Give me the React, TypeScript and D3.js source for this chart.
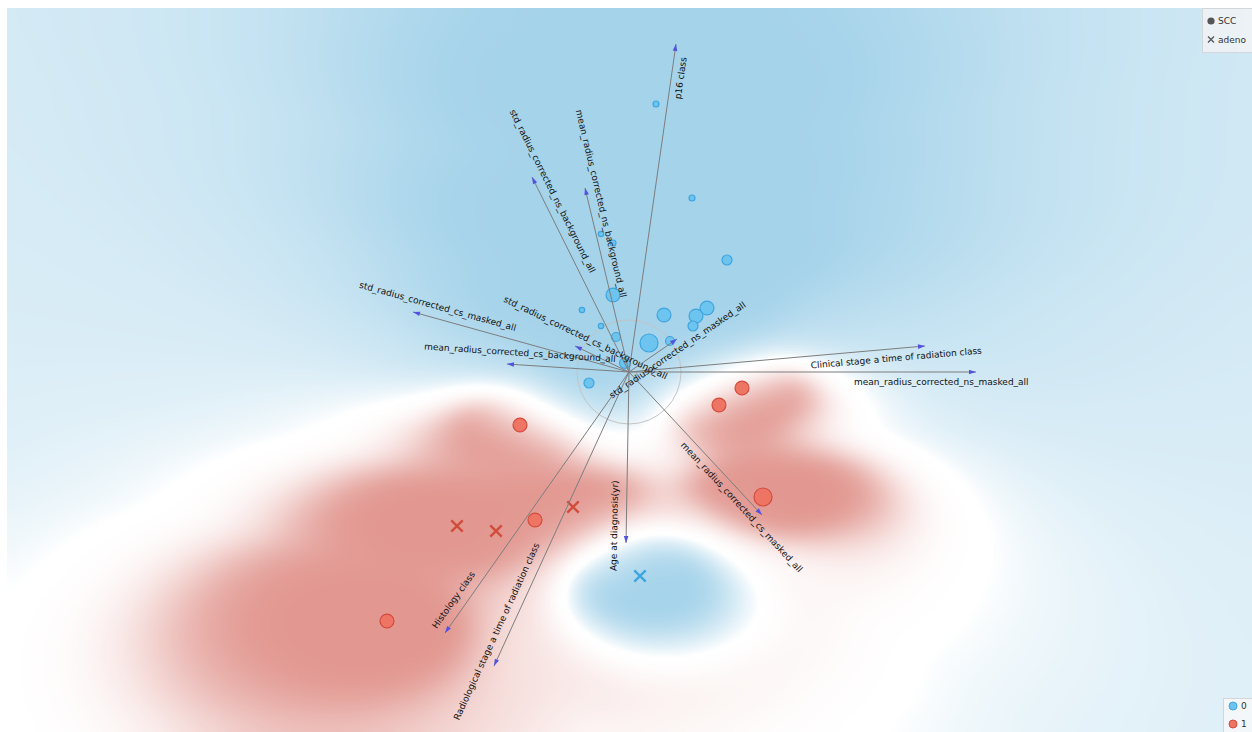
import React, { useEffect, useState } from "react";
import * as d3 from "d3";

// Projected instances (projection plane coordinates)
const pointX = [
  0.27, 0.63, 0.98, -0.16, -0.28, -0.16, -0.47, -0.28, -0.13, 0.35, 0.78, 0.67, 0.64, 0.2, 0.41, -0.04, -0.4, 0.11,
  -1.09, 0.9, 1.13, 1.34, -0.94, -2.42, -1.72, -1.33, -0.56,
];
const pointY = [
  2.68, 1.74, 1.12, 0.77, 1.38, 1.29, 0.62, 0.46, 0.35, 0.57, 0.64, 0.56, 0.46, 0.29, 0.31, 0.09, -0.11, -2.04,
  -0.53, -0.33, -0.16, -1.25, -1.48, -2.49, -1.54, -1.59, -1.35,
];
const pointClass = [
  "0", "0", "0", "0", "0", "0", "0", "0", "0", "0", "0", "0", "0", "0", "0", "0", "0", "0",
  "1", "1", "1", "1", "1", "1", "1", "1", "1",
];
const pointHistology = [
  "SCC", "SCC", "SCC", "SCC", "SCC", "SCC", "SCC", "SCC", "SCC", "SCC", "SCC", "SCC", "SCC", "SCC", "SCC", "SCC", "SCC", "adeno",
  "SCC", "SCC", "SCC", "SCC", "SCC", "SCC", "adeno", "adeno", "adeno",
];
const pointSize = [
  1.1, 1.1, 3.1, 6, 0.9, 1.1, 0.9, 0.9, 2.5, 6, 6, 6, 3.1, 10, 2.5, 3.7, 3.1, 6,
  6, 6, 6, 10, 6, 6, 6, 6, 6,
];

// Feature anchors (projection vectors)
const anchorNames = [
  "p16 class",
  "std_radius_corrected_ns_background_all",
  "mean_radius_corrected_ns_background_all",
  "std_radius_corrected_cs_masked_all",
  "std_radius_corrected_cs_background_all",
  "mean_radius_corrected_cs_background_all",
  "std_radius_corrected_ns_masked_all",
  "Clinical stage a time of radiation class",
  "mean_radius_corrected_ns_masked_all",
  "mean_radius_corrected_cs_masked_all",
  "Age at diagnosis(yr)",
  "Radiological stage a time of radiation class",
  "Histology class",
];
const anchorX = [0.47, -0.97, -0.44, -2.16, -0.54, -1.22, 0.48, 2.96, 3.47, 1.33, -0.03, -1.35, -1.84];
const anchorY = [3.28, 1.95, 1.84, 0.6, 0.26, 0.08, 0.33, 0.26, 0.0, -1.43, -1.71, -2.94, -2.61];

const classLabels = ["0", "1"];
const histologyLabels = ["SCC", "adeno"];
const hideRadius = 0.52;

const W = 1252;
const H = 732;
const plot = { left: 7, top: 8, right: 1252, bottom: 732 };
const FONT = "DejaVu Sans, Verdana, sans-serif";

const xScale = d3.scaleLinear().domain([-6.22, 6.23]).range([plot.left, plot.right]);
const yScale = d3.scaleLinear().domain([3.64, -3.6]).range([plot.top, plot.bottom]);
const rScale = d3.scaleSqrt().domain([0, 10]).range([0, 9]);
const fillScale = d3.scaleOrdinal<string, string>().domain(classLabels).range(["#6dc4ef", "#ee7464"]);
const strokeScale = d3.scaleOrdinal<string, string>().domain(classLabels).range(["#3fa5de", "#d24c3c"]);
const tintScale = d3
  .scaleOrdinal<string, number[]>()
  .domain(classLabels)
  .range([
    [165, 211, 234],
    [226, 152, 145],
  ]);
// response curve of the tint strength per class
const gammaScale = d3.scaleOrdinal<string, number>().domain(classLabels).range([0.8, 2.3]);

// separable box blur with clamped edges, applied in place
function boxBlur(src: Float64Array, cols: number, rows: number, rad: number) {
  const tmp = new Float64Array(src.length);
  const n = 2 * rad + 1;
  for (let j = 0; j < rows; j++) {
    for (let i = 0; i < cols; i++) {
      let s = 0;
      for (let k = -rad; k <= rad; k++) s += src[j * cols + Math.min(cols - 1, Math.max(0, i + k))];
      tmp[j * cols + i] = s / n;
    }
  }
  for (let j = 0; j < rows; j++) {
    for (let i = 0; i < cols; i++) {
      let s = 0;
      for (let k = -rad; k <= rad; k++) s += tmp[Math.min(rows - 1, Math.max(0, j + k)) * cols + i];
      src[j * cols + i] = s / n;
    }
  }
}

// Class probability map computed in view-normalised coordinates (each axis
// scaled to [0, 1]); the Gaussian bandwidth grows with the distance to the
// closest instance so that far regions blend toward the overall class mix.
function useDensityImage(step: number) {
  const [url, setUrl] = useState("");
  useEffect(() => {
    const pw = plot.right - plot.left;
    const ph = plot.bottom - plot.top;
    const cols = Math.ceil(pw / step);
    const rows = Math.ceil(ph / step);
    const nx = pointX.map((v) => (xScale(v) - plot.left) / pw);
    const ny = pointY.map((v) => (yScale(v) - plot.top) / ph);
    const isBlue = pointClass.map((c) => c === classLabels[0]);
    const d2 = new Float64Array(nx.length);
    const signed = new Float64Array(cols * rows);
    for (let j = 0; j < rows; j++) {
      const gy = ((j + 0.5) * step) / ph;
      for (let i = 0; i < cols; i++) {
        const gx = ((i + 0.5) * step) / pw;
        let dmin = Infinity;
        for (let k = 0; k < nx.length; k++) {
          const dx = gx - nx[k];
          const dy = gy - ny[k];
          d2[k] = dx * dx + dy * dy;
          if (d2[k] < dmin) dmin = d2[k];
        }
        const d1 = Math.sqrt(dmin);
        const sigma = Math.max(0.04, d1 * (0.75 + d1 / 0.65));
        const s2 = 2 * sigma * sigma;
        let wb = 0;
        let wr = 0;
        for (let k = 0; k < nx.length; k++) {
          const w = Math.exp(-(d2[k] - dmin) / s2);
          if (isBlue[k]) wb += w;
          else wr += w;
        }
        signed[j * cols + i] = (2 * wb) / (wb + wr) - 1;
      }
    }
    boxBlur(signed, cols, rows, 4);
    boxBlur(signed, cols, rows, 4);

    const canvas = document.createElement("canvas");
    canvas.width = cols;
    canvas.height = rows;
    const ctx = canvas.getContext("2d");
    if (!ctx) return;
    const img = ctx.createImageData(cols, rows);
    for (let q = 0; q < signed.length; q++) {
      const s = signed[q];
      const cls = s >= 0 ? classLabels[0] : classLabels[1];
      const tint = tintScale(cls);
      const t = Math.pow(Math.abs(s), gammaScale(cls));
      const o = q * 4;
      img.data[o] = 255 + t * (tint[0] - 255);
      img.data[o + 1] = 255 + t * (tint[1] - 255);
      img.data[o + 2] = 255 + t * (tint[2] - 255);
      img.data[o + 3] = 255;
    }
    ctx.putImageData(img, 0, 0);
    setUrl(canvas.toDataURL());
  }, [step]);
  return url;
}

function Marker({ cx, cy, r, cls, shape }: { cx: number; cy: number; r: number; cls: string; shape: string }) {
  if (shape === histologyLabels[1]) {
    const s = r * 0.82;
    return (
      <path
        d={`M${cx - s},${cy - s}L${cx + s},${cy + s}M${cx - s},${cy + s}L${cx + s},${cy - s}`}
        stroke={strokeScale(cls)}
        strokeWidth={2.4}
        fill="none"
      />
    );
  }
  return <circle cx={cx} cy={cy} r={r} fill={fillScale(cls)} stroke={strokeScale(cls)} strokeWidth={1.2} />;
}

export default function App() {
  const step = 3;
  const densityUrl = useDensityImage(step);
  const ox = xScale(0);
  const oy = yScale(0);

  const anchors = anchorNames.map((name, i) => {
    const tx = xScale(anchorX[i]);
    const ty = yScale(anchorY[i]);
    const dx = tx - ox;
    const dy = ty - oy;
    const len = Math.hypot(dx, dy);
    const ux = dx / len;
    const uy = dy / len;
    const ang = (Math.atan2(dy, dx) * 180) / Math.PI;
    const rightward = dx >= 0;
    const lx = ox + 0.9 * dx;
    const ly = oy + 0.9 * dy;
    return { name, tx, ty, ux, uy, ang, rightward, lx, ly };
  });

  const order = d3.range(pointX.length);

  return (
    <div style={{ position: "absolute", left: 0, top: 0, width: W, height: H }}>
      <svg width={W} height={H} style={{ display: "block" }}>
        <defs>
          <clipPath id="plot-area">
            <rect x={plot.left} y={plot.top} width={plot.right - plot.left} height={plot.bottom - plot.top} />
          </clipPath>
        </defs>
        <rect x={0} y={0} width={W} height={H} fill="#ffffff" />
        <g clipPath="url(#plot-area)">
          {densityUrl && (
            <image
              href={densityUrl}
              x={plot.left}
              y={plot.top}
              width={Math.ceil((plot.right - plot.left) / step) * step}
              height={Math.ceil((plot.bottom - plot.top) / step) * step}
              preserveAspectRatio="none"
            />
          )}

          <circle
            cx={ox}
            cy={oy}
            r={xScale(hideRadius) - ox}
            fill="none"
            stroke="#c4c4c4"
            strokeWidth={1}
          />

          {order.map((i) => (
            <Marker
              key={`p${i}`}
              cx={xScale(pointX[i])}
              cy={yScale(pointY[i])}
              r={rScale(pointSize[i])}
              cls={pointClass[i]}
              shape={pointHistology[i]}
            />
          ))}

          {anchors.map((a, i) => (
            <g key={`a${i}`}>
              <line x1={ox} y1={oy} x2={a.tx} y2={a.ty} stroke="#7d7d7d" strokeWidth={1} />
              <path
                d={`M${a.tx},${a.ty}L${a.tx - 7 * a.ux - 2.3 * a.uy},${a.ty - 7 * a.uy + 2.3 * a.ux}L${
                  a.tx - 7 * a.ux + 2.3 * a.uy
                },${a.ty - 7 * a.uy - 2.3 * a.ux}Z`}
                fill="#5252e0"
              />
            </g>
          ))}

          {anchors.map((a, i) => (
            <text
              key={`l${i}`}
              transform={`translate(${a.lx},${a.ly}) rotate(${a.rightward ? a.ang : a.ang + 180})`}
              dy={a.rightward ? 12.5 : -9}
              textAnchor="middle"
              fontFamily={FONT}
              fontSize={9}
              fill="#111"
            >
              {a.name}
            </text>
          ))}
        </g>

        {/* shape legend */}
        <g>
          <rect x={1202.5} y={8.5} width={60} height={44} fill="rgba(242,244,245,0.8)" stroke="#d3d7d9" />
          {histologyLabels.map((h, i) => {
            const cy = 21 + i * 18.5;
            return (
              <g key={h}>
                {i === 0 ? (
                  <circle cx={1211} cy={cy} r={3.6} fill="#555" />
                ) : (
                  <path
                    d={`M${1208},${cy - 3}L${1214},${cy + 3}M${1208},${cy + 3}L${1214},${cy - 3}`}
                    stroke="#555"
                    strokeWidth={1.3}
                  />
                )}
                <text x={1218} y={cy + 3.3} fontFamily={FONT} fontSize={9} fill="#333">
                  {h}
                </text>
              </g>
            );
          })}
        </g>

        {/* class legend */}
        <g>
          <rect x={1223.5} y={698.5} width={40} height={40} fill="rgba(246,248,249,0.85)" stroke="#d3d7d9" />
          {classLabels.map((c, i) => {
            const cy = 706 + i * 18;
            return (
              <g key={c}>
                <circle cx={1233} cy={cy} r={4} fill={fillScale(c)} stroke={strokeScale(c)} strokeWidth={1} />
                <text x={1241} y={cy + 3.3} fontFamily={FONT} fontSize={9} fill="#333">
                  {c}
                </text>
              </g>
            );
          })}
        </g>
      </svg>
    </div>
  );
}
